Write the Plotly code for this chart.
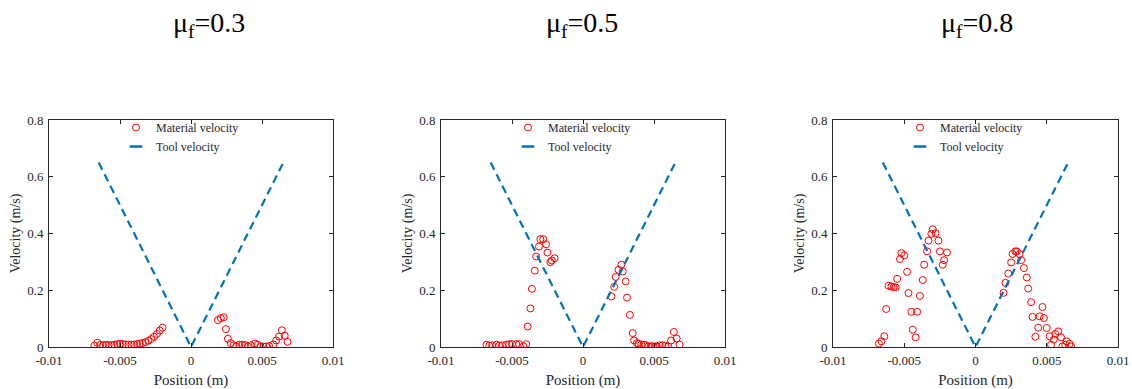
import plotly.graph_objects as go

# ---------------- data ----------------
titles = ["μ<sub>f</sub>=0.3", "μ<sub>f</sub>=0.5", "μ<sub>f</sub>=0.8"]

tool_x = [-0.0065, 0.0, 0.0065]
tool_v = [0.65, 0.0, 0.65]

# mu_f = 0.3
mat1_x = [-0.0068, -0.0066, -0.0064, -0.0062, -0.0060, -0.0058, -0.0056, -0.0054, -0.0052, -0.0050,
          -0.0048, -0.0046, -0.0044, -0.0042, -0.0040, -0.0038, -0.0036, -0.0034, -0.0032, -0.0030,
          -0.0028, -0.0026, -0.0024, -0.0022, -0.0020,
          0.0019, 0.0021, 0.0023, 0.00246, 0.0026, 0.0028, 0.0030, 0.0032, 0.0034, 0.0036,
          0.0038, 0.0040, 0.0042, 0.0045, 0.0047, 0.0049, 0.0051, 0.0053, 0.0055, 0.0058,
          0.0060, 0.0062, 0.0064, 0.0066, 0.0068]
mat1_v = [0.005, 0.015, 0.007, 0.006, 0.008, 0.007, 0.006, 0.008, 0.010, 0.011,
          0.010, 0.009, 0.008, 0.008, 0.009, 0.010, 0.012, 0.014, 0.017, 0.022,
          0.028, 0.036, 0.046, 0.058, 0.068,
          0.095, 0.102, 0.105, 0.063, 0.029, 0.014, 0.006, 0.002, 0.008, 0.008,
          0.007, 0.002, 0.006, 0.012, 0.008, 0.002, 0.002, 0.002, 0.003, 0.009,
          0.023, 0.037, 0.059, 0.040, 0.018]

# mu_f = 0.5
mat2_x = [-0.0068, -0.0066, -0.0064, -0.0061, -0.0059, -0.0057, -0.0054, -0.0052, -0.0050, -0.0047,
          -0.0045, -0.0042, -0.0040, -0.0039, -0.0037, -0.0036, -0.0034, -0.0033, -0.0031, -0.0030,
          -0.0028, -0.0026, -0.0025, -0.0023, -0.0022, -0.0020,
          0.0020, 0.0022, 0.0023, 0.0025, 0.0027, 0.0028, 0.0030, 0.0031, 0.0033, 0.0035,
          0.0036, 0.0038, 0.0039, 0.0041, 0.0043, 0.0044, 0.0046, 0.0048, 0.0049, 0.0051,
          0.0052, 0.0054, 0.0056, 0.0058, 0.0060, 0.0062, 0.0064, 0.0066, 0.0068]
mat2_v = [0.008, 0.005, 0.006, 0.008, 0.005, 0.006, 0.008, 0.010, 0.010, 0.010,
          0.010, 0.003, 0.010, 0.072, 0.136, 0.205, 0.269, 0.319, 0.354, 0.380,
          0.380, 0.362, 0.333, 0.299, 0.305, 0.313,
          0.178, 0.212, 0.247, 0.272, 0.290, 0.266, 0.231, 0.174, 0.113, 0.049,
          0.023, 0.014, 0.011, 0.009, 0.008, 0.007, 0.002, 0.003, 0.002, 0.002,
          0.002, 0.006, 0.006, 0.005, 0.002, 0.023, 0.053, 0.030, 0.008]

# mu_f = 0.8
mat3_x = [-0.00678, -0.0066, -0.0064, -0.00627, -0.0061, -0.0059, -0.00575, -0.0056, -0.0055, -0.0053,
          -0.0052, -0.0050, -0.0048, -0.0047, -0.0045, -0.0044, -0.0042, -0.0041, -0.0039, -0.0037,
          -0.0036, -0.0034, -0.0033, -0.0031, -0.0030, -0.0028, -0.0026, -0.0025, -0.0023, -0.0022,
          -0.0020,
          0.00197, 0.0021, 0.0023, 0.0025, 0.0026, 0.0028, 0.0029, 0.0031, 0.0032, 0.0034,
          0.0036, 0.0037, 0.0039, 0.0040, 0.0042, 0.0044, 0.0045, 0.0047, 0.0048, 0.0050,
          0.0052, 0.0053, 0.0055, 0.0056, 0.0058, 0.0060, 0.0061, 0.0063, 0.0064, 0.0066,
          0.0067]
mat3_v = [0.012, 0.020, 0.038, 0.134, 0.216, 0.213, 0.211, 0.210, 0.240, 0.310,
          0.331, 0.323, 0.265, 0.190, 0.124, 0.061, 0.034, 0.124, 0.180, 0.236,
          0.290, 0.337, 0.375, 0.399, 0.415, 0.401, 0.375, 0.337, 0.290, 0.306,
          0.333,
          0.191, 0.226, 0.259, 0.298, 0.328, 0.337, 0.337, 0.327, 0.306, 0.278,
          0.245, 0.206, 0.158, 0.106, 0.036, 0.068, 0.108, 0.141, 0.102, 0.067,
          0.038, 0.008, 0.026, 0.046, 0.055, 0.034, 0.002, 0.008, 0.020, 0.011,
          0.002]

mat_x = [mat1_x, mat2_x, mat3_x]
mat_v = [mat1_v, mat2_v, mat3_v]

xtick_vals = [-0.01, -0.005, 0, 0.005, 0.01]
xtick_text = ["-0.01", "-0.005", "0", "0.005", "0.01"]
ytick_vals = [0, 0.2, 0.4, 0.6, 0.8]
ytick_text = ["0", "0.2", "0.4", "0.6", "0.8"]

# ---------------- layout ----------------
W, H = 1132, 389
x_px = [(49, 333), (441, 725), (833, 1118)]
title_cx = [209, 582, 977]
y_top, y_bot = 120, 347
ydom = [1 - y_bot / H, 1 - y_top / H]
font_family = '"Times New Roman", "Liberation Serif", Times, serif'
txt_col = "#262626"

fig = go.Figure()
legend_names = ["legend", "legend2", "legend3"]

for i in range(3):
    sfx = "" if i == 0 else str(i + 1)
    fig.add_trace(go.Scatter(
        x=mat_x[i], y=mat_v[i], mode="markers", name="Material velocity",
        marker=dict(symbol="circle-open", size=7, color="#FF0000", line=dict(width=1)),
        xaxis="x" + sfx, yaxis="y" + sfx, legend=legend_names[i]))
    fig.add_trace(go.Scatter(
        x=tool_x, y=tool_v, mode="lines", name="Tool velocity", showlegend=False,
        line=dict(color="#0072BD", width=2.2, dash="8px,5px"),
        xaxis="x" + sfx, yaxis="y" + sfx, legend=legend_names[i]))
    # legend-only entry with a short dash symbol
    fig.add_trace(go.Scatter(
        x=[None], y=[None], mode="markers", name="Tool velocity",
        marker=dict(symbol="line-ew", size=9, color="#0072BD",
                    line=dict(color="#0072BD", width=2.5)),
        xaxis="x" + sfx, yaxis="y" + sfx, legend=legend_names[i]))

    x0, x1 = x_px[i]
    axis_common = dict(showline=True, linecolor=txt_col, linewidth=1, mirror="ticks",
                       ticks="inside", ticklen=4, tickcolor=txt_col, showgrid=False,
                       zeroline=False, automargin=False,
                       tickfont=dict(family=font_family, size=13, color=txt_col))
    fig.update_layout(**{
        "xaxis" + sfx: dict(domain=[x0 / W, x1 / W], range=[-0.01, 0.01],
                            tickvals=xtick_vals, ticktext=xtick_text, anchor="y" + sfx,
                            ticklabelstandoff=1,
                            title=dict(text="Position (m)", standoff=8,
                                       font=dict(family=font_family, size=15, color=txt_col)),
                            **axis_common),
        "yaxis" + sfx: dict(domain=ydom, range=[0, 0.8], tickvals=ytick_vals,
                            ticktext=ytick_text, anchor="x" + sfx,
                            ticklabelstandoff=2,
                            title=dict(text="Velocity (m/s)", standoff=3,
                                       font=dict(family=font_family, size=14, color=txt_col)),
                            **axis_common),
        legend_names[i]: dict(x=(x0 + 67) / W, y=1 - 113 / H, xanchor="left", yanchor="top",
                              bgcolor="rgba(0,0,0,0)", borderwidth=0, itemwidth=30,
                              tracegroupgap=0,
                              font=dict(family=font_family, size=12, color=txt_col)),
    })
    fig.add_annotation(text=titles[i], x=title_cx[i] / W, y=1 - 25 / H,
                       xref="paper", yref="paper", showarrow=False, xanchor="center",
                       yanchor="middle", font=dict(family=font_family, size=28, color="#000000"))

fig.update_layout(width=W, height=H, margin=dict(l=0, r=0, t=0, b=0),
                  plot_bgcolor="white", paper_bgcolor="white", showlegend=True)

fig.write_html("out.html")
